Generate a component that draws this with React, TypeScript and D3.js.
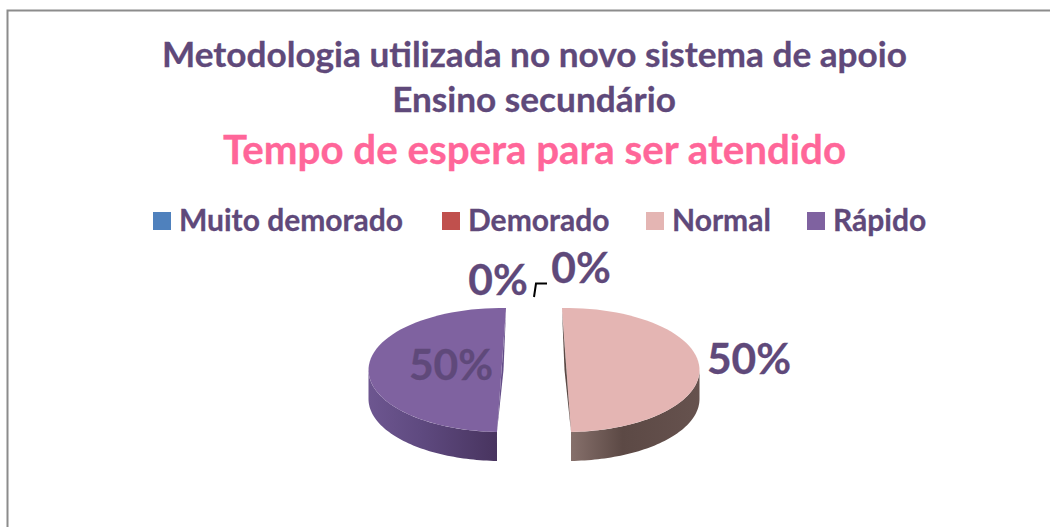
import React from "react";
import * as d3 from "d3";

const titleLines = ["Metodologia utilizada no novo sistema de apoio", "Ensino secundário"];
const subtitle = "Tempo de espera para ser atendido";
const categories = ["Muito demorado", "Demorado", "Normal", "Rápido"];
const values = [0, 0, 50, 50];
const colors = ["#4f81bd", "#c0504d", "#e4b5b3", "#7f62a0"];
const wallStops = [
  ["#000000", "#000000", "#000000"],
  ["#000000", "#000000", "#000000"],
  ["#86706b", "#5c4945", "#66524e"],
  ["#6d5690", "#5f4a80", "#48345f"],
];
const edgeColors = ["#000000", "#000000", "#5c4945", "#644d88"];
const sliceTilt = [0, 0, -0.034, 0.034];
const legendX = [153, 442, 646, 807];
const labelPos: [number, number][] = [[498, 295], [581, 283], [749, 374], [451, 380]];

const FONT = "Lato, 'Open Sans', sans-serif";
const TEXT = "#5f497a";
const cx = 534, cy = 370, rx = 133, ry = 62, depth = 29, gap = 32.5;

const arcs = d3.pie<number>().sort(null)(values);
const fmt = d3.format(".0%");
const total = d3.sum(values);

function pts(a0: number, a1: number, ox: number, oy: number): [number, number][] {
  return d3.range(0, 61).map((i) => {
    const a = a0 + ((a1 - a0) * i) / 60;
    return [ox + rx * Math.sin(a), oy - ry * Math.cos(a)] as [number, number];
  });
}
const line = d3.line();

export default function App() {
  return (
    <svg width={1050} height={527} style={{ position: "absolute", left: 0, top: 0, background: "#fff" }}>
      <defs>
        {arcs.map((d, i) => (
          <linearGradient key={i} id={`wall${i}`} x1="0" x2="1" y1="0" y2="0">
            <stop offset="0" stopColor={wallStops[i][0]} />
            <stop offset="0.4" stopColor={wallStops[i][1]} />
            <stop offset="1" stopColor={wallStops[i][2]} />
          </linearGradient>
        ))}
      </defs>
      <path d="M1050 10.5H7.5V527" fill="none" stroke="#8c8c8c" strokeWidth={2} />
      <g fontFamily={FONT} fontWeight={700} textAnchor="middle" fill={TEXT} stroke={TEXT} strokeWidth={0.3}>
        <text x={534.5} y={67} fontSize={35.2}>{titleLines[0]}</text>
        <text x={534} y={112} fontSize={35.2}>{titleLines[1]}</text>
        <text x={534.5} y={164} fontSize={40.3} fill="#ff6699" stroke="#ff6699">{subtitle}</text>
      </g>
      {categories.map((c, i) => (
        <g key={c} fontFamily={FONT} fontWeight={700}>
          <rect x={legendX[i]} y={212} width={18} height={18} fill={colors[i]} />
          <text x={legendX[i] + 26} y={231} fontSize={30} fill={TEXT} stroke={TEXT} strokeWidth={0.3}>{c}</text>
        </g>
      ))}
      {arcs.map((d, i) => {
        if (d.value === 0) return null;
        const mid = (d.startAngle + d.endAngle) / 2;
        const ox = cx + gap * Math.sin(mid);
        const oy = cy;
        const a0 = d.startAngle + sliceTilt[i];
        const a1 = d.endAngle + sliceTilt[i];
        const lo = Math.max(a0, Math.PI / 2);
        const hi = Math.min(a1, (3 * Math.PI) / 2);
        const top = pts(a0, a1, ox, oy);
        const edge = pts(lo, hi, ox, oy);
        const wall = [...edge, ...edge.slice().reverse().map(([x, y]) => [x, y + depth] as [number, number])];
        const side = Math.sin(mid) > 0 ? -1 : 1;
        const upper = Math.sin(a0) * Math.cos(a0) !== 0 && Math.cos(a0) > 0 ? top[0] : top[60];
        const lower = Math.cos(a0) > 0 ? top[60] : top[0];
        const sliver: [number, number][] = [
          [upper[0], upper[1] + 2],
          lower,
          [(upper[0] + lower[0]) / 2 + side * 2, (upper[1] + lower[1]) / 2],
        ];
        return (
          <g key={i}>
            <path d={line(wall) + "Z"} fill={`url(#wall${i})`} />
            <path d={line([[ox, oy], ...top]) + "Z"} fill={colors[i]} />
            <path d={line(sliver) + "Z"} fill={edgeColors[i]} />
          </g>
        );
      })}
      <path d={line([[534, 297], [536, 283.5], [547, 283.5]]) ?? ""} fill="none" stroke="#000" strokeWidth={2} />
      {arcs.map((d, i) => (
        <text key={i} x={labelPos[i][0]} y={labelPos[i][1]} textAnchor="middle" fontFamily={FONT} fontWeight={700} fontSize={42.5} fill={TEXT} stroke={TEXT} strokeWidth={0.3}>
          {fmt(d.value / total)}
        </text>
      ))}
    </svg>
  );
}
